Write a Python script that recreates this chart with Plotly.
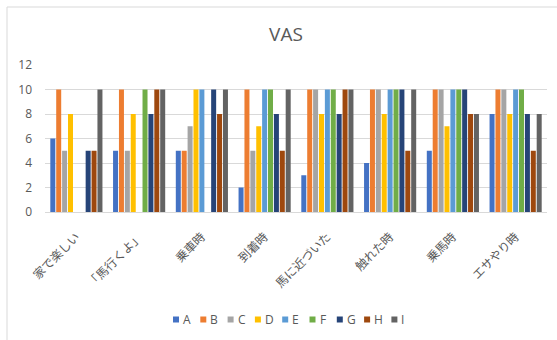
import plotly.graph_objects as go

# Categories (situations) and VAS scores for each respondent A–I
categories = ["家で楽しい", "「馬行くよ」", "乗車時", "到着時", "馬に近づいた", "触れた時", "乗馬時", "エサやり時"]
series_names = ["A", "B", "C", "D", "E", "F", "G", "H", "I"]

A = [6, 5, 5, 2, 3, 4, 5, 8]
B = [10, 10, 5, 10, 10, 10, 10, 10]
C = [5, 5, 7, 5, 10, 10, 10, 10]
D = [8, 8, 10, 7, 8, 8, 7, 8]
E = [None, None, 10, 10, 10, 10, 10, 10]
F = [None, 10, None, 10, 10, 10, 10, 10]
G = [5, 8, 10, 8, 8, 10, 10, 8]
H = [5, 10, 8, 5, 10, 5, 8, 5]
I = [10, 10, 10, 10, 10, 10, 8, 8]

series_values = [A, B, C, D, E, F, G, H, I]
colors = ["#4472C4", "#ED7D31", "#A5A5A5", "#FFC000", "#5B9BD5",
          "#70AD47", "#264478", "#9E480E", "#636363"]

W, Hgt = 557, 340
ML, MR, MT, MB = 45, 10, 65, 128
PW, PH = W - ML - MR, Hgt - MT - MB


def px_x(px):
    return (px - ML) / PW


def px_y(py):
    return (Hgt - MB - py) / PH


fig = go.Figure()
for name, vals, col in zip(series_names, series_values, colors):
    fig.add_trace(go.Bar(x=categories, y=vals, name=name, marker_color=col,
                         marker_line_width=0, showlegend=False))

text_col = "#595959"
grid_col = "#D9D9D9"

# Compact horizontal legend: coloured squares followed by series names
shapes = []
annotations = []
for i, (name, col) in enumerate(zip(series_names, colors)):
    cx = 176 + 27.3 * i
    cy = 319.5
    shapes.append(dict(type="rect", xref="paper", yref="paper",
                       xsizemode="pixel", ysizemode="pixel",
                       xanchor=px_x(cx), yanchor=px_y(cy),
                       x0=-3, x1=3, y0=-3, y1=3,
                       fillcolor=col, line_width=0))
    annotations.append(dict(text=name, xref="paper", yref="paper",
                            x=px_x(cx + 5), y=px_y(cy), xanchor="left",
                            yanchor="middle", showarrow=False,
                            font=dict(size=12, color=text_col)))

# Chart-area border
shapes.append(dict(type="rect", xref="paper", yref="paper",
                   x0=px_x(7), x1=px_x(620), y0=px_y(400), y1=px_y(7),
                   line=dict(color=grid_col, width=1), fillcolor="rgba(0,0,0,0)",
                   layer="below"))

fig.update_layout(
    width=W, height=Hgt,
    margin=dict(l=ML, r=MR, t=MT, b=MB, pad=0),
    paper_bgcolor="white", plot_bgcolor="white",
    font=dict(family="Open Sans, Noto Sans CJK JP, sans-serif", color=text_col, size=12),
    title=dict(text="VAS", x=286 / W, xref="container", xanchor="center",
               y=1 - 34 / Hgt, yref="container", yanchor="middle",
               font=dict(size=19, color=text_col)),
    barmode="group", bargap=0.155, bargroupgap=0.15,
    shapes=shapes, annotations=annotations,
    showlegend=False,
)
fig.update_yaxes(range=[0, 12], dtick=2, showgrid=True, gridcolor=grid_col, gridwidth=1,
                 zeroline=False, showline=False, ticks="", ticklabelstandoff=12,
                 tickfont=dict(size=12, color=text_col))
fig.update_xaxes(showline=True, linecolor=grid_col, linewidth=1, ticks="",
                 tickangle=-45, ticklabelstandoff=12,
                 tickfont=dict(size=12, color=text_col,
                               family="Noto Sans CJK JP, sans-serif"))

fig.write_html("out.html")
